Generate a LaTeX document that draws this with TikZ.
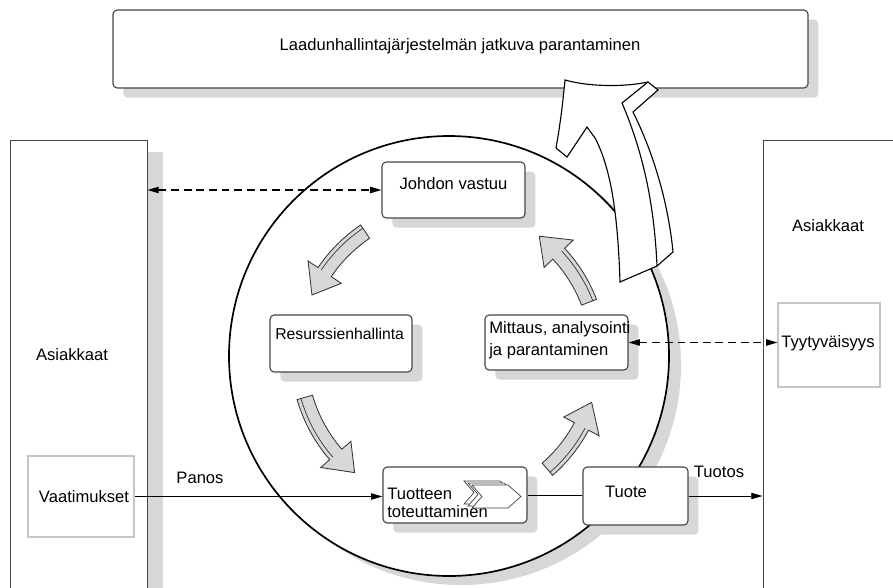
\documentclass[tikz,border=0pt]{standalone}
\usepackage{fontspec}
\setmainfont{Liberation Sans}
\usetikzlibrary{arrows.meta,positioning,calc,shadows,fit}
\definecolor{shd}{RGB}{215,215,215}
\definecolor{edge}{RGB}{70,70,70}
\definecolor{cyc}{RGB}{216,216,216}
\tikzset{
  rbox/.style={draw=edge, fill=white, rounded corners=3pt, line width=0.8pt, inner sep=0pt,
               drop shadow={shadow xshift=0.26cm, shadow yshift=-0.24cm, fill=shd, opacity=1}},
  sbox/.style={draw=edge, fill=white, line width=0.7pt, inner sep=0pt,
               drop shadow={shadow xshift=0.4cm, shadow yshift=-0.3cm, fill=shd, opacity=1}},
  ibox/.style={draw=gray!45, fill=white, line width=0.8pt, inner sep=0pt},
  txt/.style={font=\fontsize{11.8}{15.5}\selectfont, inner sep=0pt},
  flow/.style={-{Triangle[length=8pt,width=4.5pt]}, line width=0.6pt},
  dflow/.style={{Triangle[length=8pt,width=4.5pt]}-{Triangle[length=8pt,width=4.5pt]},
                dash pattern=on 5.5pt off 3.5pt, line width=0.8pt},
  cyarr/.style={draw=black!80, fill=cyc, line width=0.6pt},
  bigarr/.style={draw=black, fill=white, line width=0.8pt},
  chevr/.style={draw=black!75, fill=white, line width=0.5pt},
}
% curved grey arrow on the cycle, from angle #1 to angle #2
\newcommand{\cyclearr}[2]{%
  \draw[cyarr] ($(c)+(#1:142)$) arc[start angle=#1, end angle={#2-10}, radius=142]
    -- ($(c)+({#2-10}:130)$) -- ($(c)+(#2:150)$) -- ($(c)+({#2-10}:170)$)
    -- ($(c)+({#2-10}:158)$) arc[start angle={#2-10}, end angle=#1, radius=158] -- cycle;
  \draw[black!80, line width=0.5pt] ($(c)+(#1:154)$) arc[start angle=#1, end angle={#2-10}, radius=154];
}

\begin{document}
\begin{tikzpicture}[x=0.025cm, y=0.025cm]
  \useasboundingbox (0,0) rectangle (893,-587);
  \coordinate (c) at (449,-356);

  % improvement box
  \node[rbox, fit={(113,-10) (808,-88)}] (qual) {};
  \node[txt] (qualtxt) at (460,-46) {Laadunhallintajärjestelmän jatkuva parantaminen};

  % customers
  \node[sbox, fit={(10,-140) (147,-610)}] (lcust) {};
  \node[sbox, fit={(763,-140) (915,-610)}] (rcust) {};
  \node[txt] (ltxt) at (72,-355) {Asiakkaat};
  \node[txt] (rtxt) at (828,-226) {Asiakkaat};
  \node[ibox, fit={(28,-456) (134,-537)}] (vaat) {};
  \node[txt] (vaattxt) at (84,-497) {Vaatimukset};
  \node[ibox, fit={(778,-303) (880,-387)}] (tyyt) {};
  \node[txt] (tyyttxt) at (828,-343) {Tyytyväisyys};

  % process circle
  \fill[shd] ($(c)+(12,-9)$) circle[radius=220];
  \draw[line width=1.2pt, fill=white] (c) circle[radius=220];

  \node[rbox, txt, fit={(382,-162) (525,-218)}] (joh) {Johdon vastuu};
  \node[rbox, fit={(270,-315) (412,-372)}] (res) {};
  \node[txt, font=\fontsize{11.2}{14}\selectfont, anchor=west] (restxt) at (275,-334) {Resurssienhallinta};
  \node[rbox, fit={(485,-315) (628,-370)}] (mitt) {};
  \node[txt, anchor=north west, align=left] (mitttxt) at (489,-321) {Mittaus, analysointi\\ja parantaminen};
  \node[rbox, fit={(383,-467) (527,-523)}] (tuot) {};
  \node[txt, anchor=west, align=left] (tuottxt) at (387,-503) {Tuotteen\\[-2.5pt]toteuttaminen};
  \node[rbox, fit={(583,-467) (688,-525)}] (tuote) {};
  \node[txt] (tuotetxt) at (626,-492) {Tuote};

  \foreach \d in {8,4,0}
    \draw[chevr, shift={(-\d,\d/2)}] (472,-485) -- (508,-485) -- (521,-496.5) -- (508,-508)
      -- (472,-508) -- (482,-496.5) -- cycle;

  \cyclearr{124}{156}
  \cyclearr{196}{231}
  \cyclearr{311}{342}
  \cyclearr{21}{53}

  % improvement arrow
  \draw[bigarr] (620,-282) .. controls (618,-220) and (612,-170) .. (595,-138)
    -- (587,-127) -- (567,-157) -- (556,-148)
    .. controls (561,-120) and (563,-100) .. (565,-80)
    .. controls (590,-87) and (625,-87) .. (648,-82)
    -- (658,-90) -- (633,-112)
    .. controls (652,-150) and (668,-200) .. (673,-252)
    -- (657,-266) -- cycle;
  \draw[bigarr, fill=none] (648,-82) -- (622,-103)
    .. controls (642,-150) and (654,-200) .. (657,-266);

  % connections
  \draw[dflow] (lcust.east |- joh.west) -- (joh.west);
  \draw[dflow] (mitt.east) -- (mitt.east -| tyyt.west);
  \draw[flow] (vaat.east) -- (vaat.east -| tuot.west);
  \draw[line width=0.6pt] (tuot.east) -- (tuot.east -| tuote.west);
  \draw[flow] (tuote.east) -- (tuote.east -| rcust.west);
  \node[txt] (panos) at (200,-478) {Panos};
  \node[txt] (tuotos) at (719,-472) {Tuotos};
\end{tikzpicture}
\end{document}
